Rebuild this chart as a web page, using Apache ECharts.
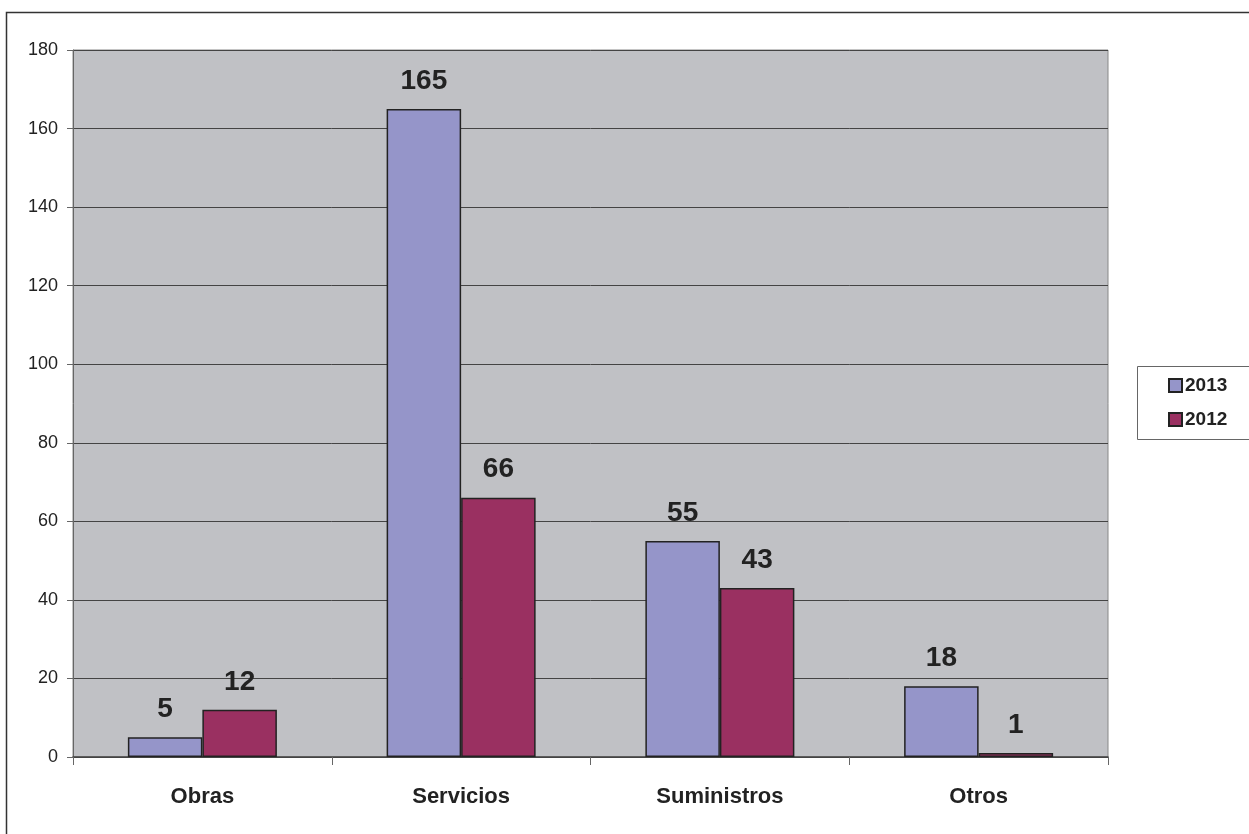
<!DOCTYPE html>
<html>
<head>
<meta charset="utf-8">
<script src="https://cdn.jsdelivr.net/npm/echarts@6/dist/echarts.min.js"></script>
<style>
  html, body { margin: 0; padding: 0; background: #fff; }
  #chart { width: 1249px; height: 834px; }
</style>
</head>
<body>
<div id="chart"></div>
<script>
// Contract counts by type, 2013 vs 2012
const categories = ['Obras', 'Servicios', 'Suministros', 'Otros'];
const values2013 = [5, 165, 55, 18];
const values2012 = [12, 66, 43, 1];
const seriesNames = ['2013', '2012'];

const FONT = '"Liberation Sans", Arial, sans-serif';
const chart = echarts.init(document.getElementById('chart'));

const labelStyle = {
  show: true,
  position: 'top',
  distance: 14,
  fontFamily: FONT,
  fontSize: 28,
  fontWeight: 'bold',
  color: '#222'
};

chart.setOption({
  animation: false,
  backgroundColor: '#fff',
  textStyle: { fontFamily: FONT },
  grid: {
    left: 73, right: 141, top: 50, bottom: 77,
    show: true,
    backgroundColor: '#c0c1c5',
    borderColor: '#888',
    borderWidth: 1
  },
  legend: {
    orient: 'vertical',
    left: 1163,
    top: 371,
    itemWidth: 13,
    itemHeight: 13,
    itemGap: 15,
    icon: 'rect',
    textStyle: { fontFamily: FONT, fontSize: 19, fontWeight: 'bold', color: '#222', padding: [0, 0, 0, -2] },
    data: seriesNames
  },
  graphic: [
    {
      type: 'rect', silent: true, z: -1,
      shape: { x: 6.5, y: 12.5, width: 1300, height: 900 },
      style: { fill: 'none', stroke: '#333', lineWidth: 1.5 }
    },
    {
      type: 'rect', silent: true,
      shape: { x: 1137.5, y: 366.5, width: 120, height: 73 },
      style: { fill: '#fff', stroke: '#666', lineWidth: 1 }
    }
  ],
  xAxis: {
    type: 'category',
    data: categories,
    axisLine: { lineStyle: { color: '#444', width: 1.5 } },
    axisTick: { show: true, length: 8, lineStyle: { color: '#666' } },
    axisLabel: { fontFamily: FONT, fontSize: 22, fontWeight: 'bold', color: '#222', margin: 29 },
    splitLine: { show: false }
  },
  yAxis: {
    type: 'value',
    min: 0, max: 180, interval: 20,
    axisLine: { show: true, lineStyle: { color: '#666' } },
    axisTick: { show: true, length: 6, inside: false, lineStyle: { color: '#666' } },
    axisLabel: { fontFamily: FONT, fontSize: 18, color: '#222', margin: 15 },
    splitLine: { show: true, lineStyle: { color: '#444', width: 1 } }
  },
  series: [
    {
      name: seriesNames[0],
      type: 'bar',
      data: values2013,
      barWidth: 74.5,
      barGap: '0%',
      itemStyle: { color: '#9595c9', borderColor: '#222', borderWidth: 1.5 },
      label: labelStyle
    },
    {
      name: seriesNames[1],
      type: 'bar',
      data: values2012,
      barWidth: 74.5,
      barGap: '0%',
      itemStyle: { color: '#9a3061', borderColor: '#222', borderWidth: 1.5 },
      label: labelStyle
    }
  ]
});
</script>
</body>
</html>
